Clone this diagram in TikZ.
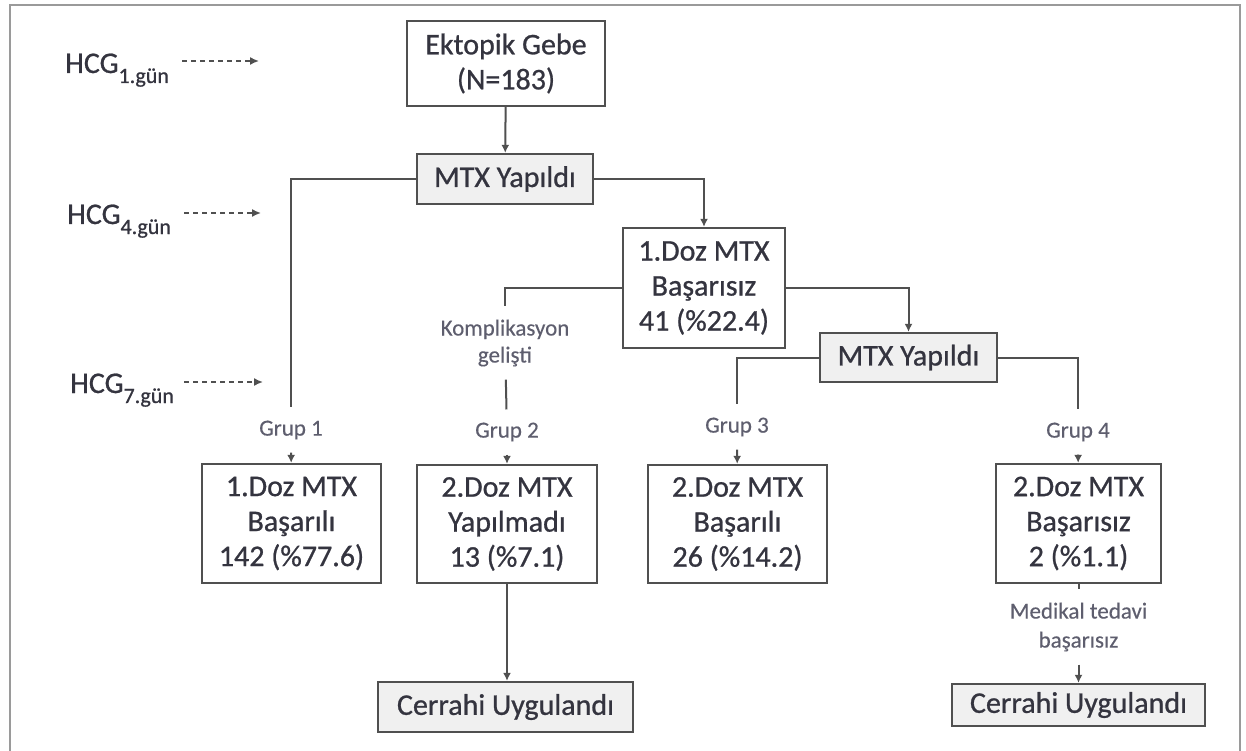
\documentclass[tikz,border=0pt]{standalone}
\usepackage{fontspec}
\setmainfont{Carlito}
\newfontfamily\boxfont{Carlito}[FakeBold=0.8]
\newfontfamily\labfont{Carlito}[FakeBold=0.3]
\usetikzlibrary{arrows.meta}
\definecolor{txt}{HTML}{34343F}
\definecolor{lbl}{HTML}{5E5E6E}
\definecolor{ln}{HTML}{505050}
\definecolor{boxfill}{HTML}{F0F0F0}
\definecolor{framec}{HTML}{9A9A9A}
\begin{document}
\begin{tikzpicture}[x=1pt,y=-1pt,
  box/.style={draw=ln, line width=2.3pt, fill=white, text=txt, align=center, inner sep=0pt,
    font=\boxfont\fontsize{30}{35}\selectfont},
  gbox/.style={box, fill=boxfill},
  lab/.style={text=lbl, align=center, inner xsep=1pt, inner ysep=13pt,
    font=\labfont\fontsize{23}{28}\selectfont},
  conn/.style={draw=ln, line width=2pt},
  arr/.style={conn, -{Latex[length=8pt,width=8pt]}},
  dasharr/.style={draw=ln, line width=1.6pt, dash pattern=on 5pt off 4pt, -{Latex[length=9pt,width=8pt]}},
  hcg/.style={text=txt, inner sep=0pt, anchor=base west, font=\boxfont\fontsize{30}{35}\selectfont}
]
\useasboundingbox (0,0) rectangle (1246,751);
\draw[framec, line width=2.8pt] (10,760) -- (10,5) -- (1240,5) -- (1240,760);

% HCG labels
\newcommand{\hcgsub}[1]{HCG\raisebox{-10pt}{\fontsize{22}{22}\selectfont #1}}
\node[hcg] (h1) at (65,73) {\hcgsub{1.gün}};
\node[hcg] (h4) at (67,224) {\hcgsub{4.gün}};
\node[hcg] (h7) at (70,393) {\hcgsub{7.gün}};
\coordinate (h1s) at (182,61);  \coordinate (h1e) at (259,61);
\coordinate (h4s) at (184,213); \coordinate (h4e) at (261,213);
\coordinate (h7s) at (184,382); \coordinate (h7e) at (263,382);
\draw[dasharr] (h1s) -- (h1e);
\draw[dasharr] (h4s) -- (h4e);
\draw[dasharr] (h7s) -- (h7e);

% boxes
\node[box, minimum width=198pt, minimum height=85pt] (ekt) at (506,63.5) {Ektopik Gebe\\(N=183)};
\node[gbox, minimum width=176pt, minimum height=50pt] (mtx1) at (505,179) {MTX Yapıldı};
\node[box, minimum width=162pt, minimum height=120pt] (doz1) at (704,288) {1.Doz MTX\\Başarısız\\41 (\%22.4)};
\node[gbox, minimum width=177pt, minimum height=49pt] (mtx2) at (908.5,357.5) {MTX Yapıldı};
\node[box, minimum width=179pt, minimum height=119pt] (b1) at (291.5,523.5) {1.Doz MTX\\Başarılı\\142 (\%77.6)};
\node[box, minimum width=180pt, minimum height=118pt] (b2) at (507,524) {2.Doz MTX\\Yapılmadı\\13 (\%7.1)};
\node[box, minimum width=179pt, minimum height=118pt] (b3) at (737.5,524) {2.Doz MTX\\Başarılı\\26 (\%14.2)};
\node[box, minimum width=165pt, minimum height=119pt] (b4) at (1078.5,523.5) {2.Doz MTX\\Başarısız\\2 (\%1.1)};
\node[gbox, minimum width=255pt, minimum height=50pt] (c1) at (505.5,707) {Cerrahi Uygulandı};
\node[gbox, minimum width=253pt, minimum height=42pt] (c2) at (1078.5,705) {Cerrahi Uygulandı};

% labels
\node[lab] (g1) at (291,430) {Grup 1};
\node[lab] (g2) at (507,432) {Grup 2};
\node[lab] (g3) at (737,427) {Grup 3};
\node[lab] (g4) at (1078,432) {Grup 4};
\node[lab, font=\labfont\fontsize{23}{27}\selectfont] (komp) at (505,343) {Komplikasyon\\gelişti};
\node[lab, font=\labfont\fontsize{23}{29}\selectfont] (med) at (1078.5,627) {Medikal tedavi\\başarısız};

% connectors
\draw[arr] (ekt) -- (mtx1);
\draw[conn] (mtx1.west) -| (g1.north);
\draw[arr] (g1) -- (b1);
\draw[arr] (mtx1.east) -| (doz1.north);
\draw[conn] (doz1.west) -| (komp.north);
\draw[conn] (komp) -- (g2);
\draw[arr] (g2) -- (b2);
\draw[arr] (doz1.east) -| (mtx2.north);
\draw[conn] (mtx2.west) -| (g3.north);
\draw[arr] (g3) -- (b3);
\draw[conn] (mtx2.east) -| (g4.north);
\draw[arr] (g4) -- (b4);
\draw[arr] (b2.south) -- (b2.south |- c1.north);
\draw[conn] (b4) -- (med);
\draw[arr] (med) -- (c2);
\end{tikzpicture}
\end{document}
